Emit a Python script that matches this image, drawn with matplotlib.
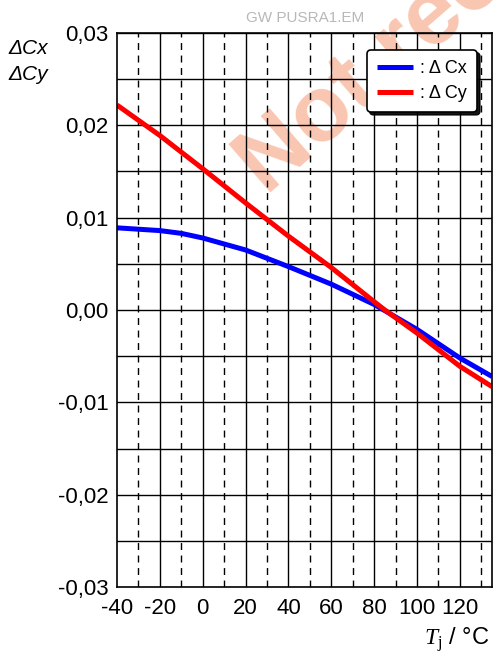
import matplotlib
matplotlib.use("Agg")
import matplotlib.pyplot as plt
import numpy as np

plt.rcParams['font.family'] = ['Liberation Sans', 'DejaVu Sans']
plt.rcParams['mathtext.fontset'] = 'custom'
plt.rcParams['mathtext.it'] = 'Liberation Serif:italic'
plt.rcParams['mathtext.rm'] = 'Liberation Serif'

# Data
tj_cx = [-40, -20, -10, 0, 20, 40, 60, 80, 100, 120, 135]
delta_cx = [0.0089, 0.0086, 0.0083, 0.0078, 0.0065, 0.0047, 0.0028, 0.0006, -0.0021, -0.0052, -0.0072]
tj_cy = [-40, -20, 0, 20, 40, 60, 80, 85, 100, 120, 135]
delta_cy = [0.0222, 0.0189, 0.0153, 0.0116, 0.0080, 0.0046, 0.0009, 0.0, -0.0025, -0.0061, -0.0083]

x_ticks = [-40, -20, 0, 20, 40, 60, 80, 100, 120]
y_ticks = [-0.03, -0.02, -0.01, 0.0, 0.01, 0.02, 0.03]
y_ticklabels = ['-0,03', '-0,02', '-0,01', '0,00', '0,01', '0,02', '0,03']
legend_labels = [': Δ Cx', ': Δ Cy']

fig = plt.figure(figsize=(4.93, 6.60), dpi=100)
ax = fig.add_axes([117/493, 1-587/660, 375/493, 554/660])

ax.set_xlim(-40, 135)
ax.set_ylim(-0.03, 0.03)

# watermark
ax.text(266/493, 1-196/660, 'Not recommended', transform=fig.transFigure,
        rotation=41, rotation_mode='anchor', ha='left', va='baseline',
        fontsize=67, fontweight='bold', color='#f9c6b1', zorder=0.5, clip_on=False)

# grid
for xv in np.arange(-20, 135, 20):
    ax.axvline(xv, color='black', lw=1.0, zorder=1)
for xv in np.arange(-30, 135, 20):
    ax.axvline(xv, color='black', lw=1.0, ls=(0, (5, 4)), zorder=1)
for yv in np.arange(-0.025, 0.0301, 0.005):
    ax.axhline(yv, color='black', lw=1.0, zorder=1)

ax.plot(tj_cx, delta_cx, color='#0000ff', lw=3.6, solid_capstyle='butt', zorder=3, label=legend_labels[0])
ax.plot(tj_cy, delta_cy, color='#ff0000', lw=3.6, solid_capstyle='butt', zorder=3, label=legend_labels[1])

ax.set_xticks(x_ticks)
ax.set_xticklabels([str(v) for v in x_ticks])
ax.set_yticks(y_ticks)
ax.set_yticklabels(y_ticklabels)
ax.tick_params(axis='both', length=0, labelsize=16)
ax.tick_params(axis='x', pad=8)
ax.tick_params(axis='y', pad=6)
for s in ax.spines.values():
    s.set_linewidth(1.2)
    s.set_zorder(4)

leg = ax.legend(loc='upper right', bbox_to_anchor=(1-15/375, 1-17/554), fontsize=13,
                frameon=True, fancybox=True, shadow={'color': 'black', 'alpha': 0.9},
                handlelength=2.0, handletextpad=0.4, borderpad=0.55, labelspacing=0.45,
                borderaxespad=0)
leg.get_frame().set_edgecolor('black')
leg.get_frame().set_linewidth(1.2)
leg.get_frame().set_alpha(1)
leg.set_zorder(5)

fig.text(305/493, 1-18/660, 'GW PUSRA1.EM', ha='center', va='center', fontsize=11, color='#b8b8b8')
fig.text(8/493, 1-48/660, 'ΔCx', ha='left', va='center', fontsize=15, style='italic')
fig.text(8/493, 1-75/660, 'ΔCy', ha='left', va='center', fontsize=15, style='italic')
fig.text(490/493, 1-640/660, r'$T_{\mathrm{j}}$ / °C', ha='right', va='center', fontsize=17)

fig.savefig('out.png', dpi=100)
